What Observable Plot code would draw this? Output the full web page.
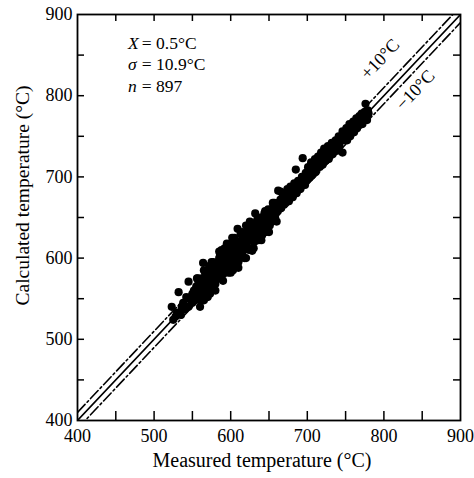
<!DOCTYPE html>
<html><head><meta charset="utf-8">
<script src="https://cdn.jsdelivr.net/npm/d3@7"></script>
<script src="https://cdn.jsdelivr.net/npm/@observablehq/plot@0.6"></script>
<style>body{margin:0;background:#fff}</style>
</head><body><div id="chart"></div>
<script>
// Measured temperature (°C) of each sample
const measured = [
525,523,530,532,535,538,540,542,545,545,548,550,550,528,536,
552,553,555,556,558,558,560,560,562,563,564,565,565,567,568,570,570,571,572,574,575,575,576,578,578,580,580,557,561,569,573,577,579,566,559,
581,582,583,584,585,585,586,587,588,589,590,590,591,592,593,594,595,595,596,597,598,599,600,600,601,602,603,604,605,605,606,607,608,609,610,610,611,612,613,614,615,615,616,617,618,619,620,620,584,592,597,603,611,586,594,606,613,618,588,599,
621,622,623,624,625,626,627,628,629,630,631,632,633,634,635,636,637,638,639,640,641,642,643,644,645,646,647,648,649,650,651,652,653,654,655,656,657,658,659,660,626,634,643,648,655,
661,662,663,665,665,666,668,670,671,672,674,675,676,678,680,681,683,685,685,686,688,690,691,693,694,695,697,698,700,699,
701,702,704,705,706,708,710,711,712,714,715,716,718,720,721,722,724,725,727,728,730,732,733,735,737,738,740,
741,742,744,746,746,748,750,751,752,754,755,756,758,760,761,762,764,765,767,768,770,771,773,775,776,777,779,780,778,772,
556,560,565,570,575,580,585,590,595,600,605,610,615,620,625,630,635,640,645,650,655,660,565,588,602,620,632,572,590,600,610,625,640,575,582,596,607,617,630,645,668,678,688,706,720,735,750,762,770,776
];
// Calculated temperature (°C) of each sample
const calculated = [
524,540,533,558,530,545,537,552,571,540,548,556,545,528,540,
560,548,565,552,570,555,562,548,575,560,594,568,555,580,563,572,560,585,565,578,570,588,562,582,573,590,568,575,557,577,556,595,578,584,566,
585,575,595,580,600,588,575,592,604,585,595,580,607,590,598,583,612,600,590,605,595,615,602,590,610,598,585,612,605,595,618,600,610,636,605,595,620,612,600,622,615,605,625,610,600,620,628,612,590,612,582,620,603,605,595,590,630,615,592,600,
618,632,625,610,635,622,630,609,640,628,620,638,632,645,630,622,642,635,650,638,628,645,640,655,642,632,652,645,660,650,640,658,652,645,662,655,668,650,662,657,640,628,650,637,650,
668,683,660,672,682,662,675,668,680,670,685,678,670,688,682,675,692,709,686,680,695,690,685,700,723,695,690,705,700,696,
712,698,708,718,702,712,722,706,715,725,712,718,730,715,725,735,720,728,738,722,732,742,728,738,745,732,742,
750,738,748,730,756,745,752,760,745,756,765,750,760,768,755,765,772,760,767,775,770,778,772,780,790,775,782,778,770,765,
575,540,585,552,595,560,608,572,618,582,625,588,632,600,645,612,648,622,658,632,668,645,548,610,625,640,655,590,600,612,615,628,645,580,590,602,612,620,635,648,665,680,688,710,722,735,748,760,775,778
];
const axisTicks = [400, 500, 600, 700, 800, 900];
const tickMarks = [450, 500, 550, 600, 650, 700, 750, 800, 850];
const refEnds = [400, 900];
const refOffsets = [0, 10, -10];
const statSymbols = ["X", "σ", "n"];
const statValues = ["= 0.5°C", "= 10.9°C", "= 897"];
const statX = [466, 484];
const statY = [864, 838, 811];
const refLabels = ["+10°C", "−10°C"];
const refLabelX = [795, 841];
const refLabelY = [845, 807];
const xTitle = "Measured temperature (°C)";
const yTitle = "Calculated temperature (°C)";

const points = measured.map((m, i) => ({m, c: calculated[i]}));
const refLines = refOffsets.flatMap(off => refEnds.map(e => ({x: e, y: e + off, off})));
const stats = statSymbols.map((s, i) => ({s, v: statValues[i], y: statY[i]}));
const refText = refLabels.map((t, i) => ({t, x: refLabelX[i], y: refLabelY[i]}));

const W = 474, H = 478, mL = 77, mR = 14, mT = 14, mB = 58;
const fw = W - mL - mR, fh = H - mT - mB;
const font = "Liberation Serif, Times New Roman, serif";

const chart = Plot.plot({
  width: W, height: H,
  marginLeft: mL, marginRight: mR, marginTop: mT, marginBottom: mB,
  style: {fontFamily: font, fontSize: "16px", color: "black", background: "white"},
  x: {domain: [400, 900]},
  y: {domain: [400, 900]},
  marks: [
    Plot.line(refLines.filter(d => d.off === 0), {x: "x", y: "y", stroke: "black", strokeWidth: 1.6, clip: true}),
    Plot.line(refLines.filter(d => d.off !== 0), {x: "x", y: "y", z: "off", stroke: "black", strokeWidth: 1.6, strokeDasharray: "11,3,2,3", clip: true}),
    Plot.dot(points, {x: "m", y: "c", r: 4.1, fill: "black", stroke: "none"}),
    Plot.tickX(tickMarks, {x: d => d, insetTop: fh - 9, stroke: "black", strokeWidth: 1.5}),
    Plot.tickX(tickMarks, {x: d => d, insetBottom: fh - 7, stroke: "black", strokeWidth: 1.5}),
    Plot.tickY(tickMarks, {y: d => d, insetRight: fw - 7, stroke: "black", strokeWidth: 1.5}),
    Plot.tickY(tickMarks, {y: d => d, insetLeft: fw - 7, stroke: "black", strokeWidth: 1.5}),
    Plot.frame({stroke: "black", strokeWidth: 1.8}),
    Plot.axisX(axisTicks, {tickSize: 0, tickPadding: 9, label: null, fontSize: 18, fontFamily: font}),
    Plot.axisY(axisTicks, {tickSize: 0, tickPadding: 5, label: null, fontSize: 18, fontFamily: font}),
    Plot.text([xTitle], {frameAnchor: "bottom", dx: -7, dy: 46, fontSize: 20, fontFamily: font, fill: "black", textAnchor: "middle"}),
    Plot.text([yTitle], {frameAnchor: "left", dx: -55, dy: -22, rotate: -90, fontSize: 19.5, fontFamily: font, fill: "black", textAnchor: "middle", lineAnchor: "middle"}),
    Plot.text(stats, {x: () => statX[0], y: "y", text: "s", fontSize: 17.5, fontStyle: "italic", fontFamily: font, fill: "black", textAnchor: "start"}),
    Plot.text(stats, {x: () => statX[1], y: "y", text: "v", fontSize: 17.5, fontFamily: font, fill: "black", textAnchor: "start"}),
    Plot.text(refText, {x: "x", y: "y", text: "t", rotate: -46.7, fontSize: 18, fontFamily: font, fill: "black"})
  ]
});
document.getElementById("chart").appendChild(chart);
</script>
</body></html>
